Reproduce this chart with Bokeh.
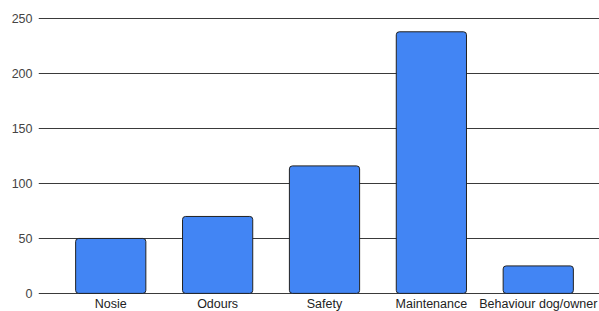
from bokeh.plotting import figure
from bokeh.models import Range1d, FixedTicker
from bokeh.embed import file_html
from bokeh.resources import INLINE

categories = ["Nosie", "Odours", "Safety", "Maintenance", "Behaviour dog/owner"]
counts = [50, 70, 116, 238, 25]
y_ticks = [0, 50, 100, 150, 200, 250]

xpos = list(range(len(categories)))

p = figure(x_range=Range1d(-0.676, 4.573), y_range=Range1d(-1, 251),
           frame_width=561, frame_height=277,
           output_backend="svg", toolbar_location=None,
           min_border_left=38, min_border_right=0, min_border_top=17, min_border_bottom=0)

p.vbar(x=xpos, top=counts, bottom=0, width=0.657, fill_color="#4285F4",
       line_color="#222222", line_width=1, border_radius=3)

p.outline_line_color = None
p.xgrid.grid_line_color = None
p.ygrid.ticker = FixedTicker(ticks=y_ticks)
p.ygrid.grid_line_color = "#3a3a3a"
p.ygrid.grid_line_width = 1.2
p.yaxis.ticker = FixedTicker(ticks=y_ticks)
p.xaxis.ticker = FixedTicker(ticks=xpos)
p.xaxis.major_label_overrides = {i: c for i, c in zip(xpos, categories)}

for ax in (p.xaxis, p.yaxis):
    ax.axis_line_color = None
    ax.major_tick_line_color = None
    ax.minor_tick_line_color = None
    ax.major_tick_out = 0
    ax.major_tick_in = 0
    ax.major_label_text_font = "Liberation Sans"
    ax.major_label_text_font_size = "12.5px"
p.yaxis.major_label_text_color = "#444444"
p.xaxis.major_label_text_color = "#222222"
p.yaxis.major_label_standoff = 6
p.xaxis.major_label_standoff = 2

open("out.html", "w").write(file_html(p, INLINE))
